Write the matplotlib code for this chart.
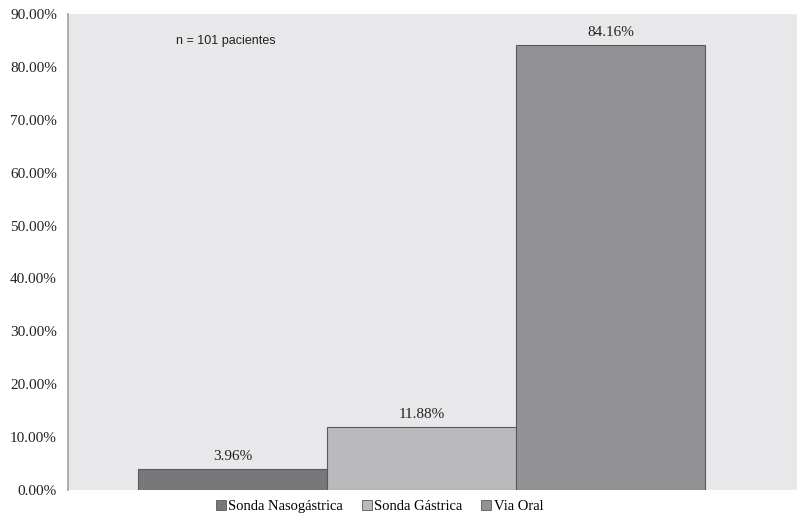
import matplotlib.pyplot as plt
from matplotlib.patches import Patch
from matplotlib.ticker import FuncFormatter

categories = ["Sonda Nasogástrica", "Sonda Gástrica", "Via Oral"]
values = [3.96, 11.88, 84.16]
colors = ["#78787b", "#bababd", "#929295"]

serif = ["Liberation Serif", "DejaVu Serif"]

fig = plt.figure(figsize=(7.97, 5.17), dpi=100)
ax = fig.add_axes([68 / 797, 27 / 517, 729 / 797, 476 / 517])
ax.set_facecolor("#e8e8ea")

x = list(range(len(values)))
ax.bar(x, values, width=1.0, color=colors, edgecolor="#5a5a5c", linewidth=0.8)
for xi, v in zip(x, values):
    ax.text(xi, v + 1.1, f"{v:.2f}%", ha="center", va="bottom",
            fontsize=11, family=serif, color="#222222")

ax.set_xlim(-0.87, 2.987)
ax.set_ylim(0, 90)
ax.set_yticks(range(0, 91, 10))
ax.yaxis.set_major_formatter(FuncFormatter(lambda v, p: f"{v:.2f}%"))
ax.tick_params(axis="y", length=0, pad=8, labelsize=11)
for lab in ax.get_yticklabels():
    lab.set_family(serif)
    lab.set_color("#222222")
ax.set_xticks([])
for s in ["top", "right", "bottom"]:
    ax.spines[s].set_visible(False)
ax.spines["left"].set_color("#a0a0a3")
ax.spines["left"].set_linewidth(1.2)

ax.text(-0.30, 84.9, "n = 101 pacientes", ha="left", va="center",
        fontsize=9, family="Liberation Sans", color="#222222")

handles = [Patch(facecolor=c, edgecolor="#5a5a5c", linewidth=0.6) for c in colors]
fig.legend(handles, categories, loc="lower center", bbox_to_anchor=(0.476, -0.018),
           ncol=3, frameon=False, handlelength=0.7, handleheight=0.7,
           handletextpad=0.15, columnspacing=1.3,
           prop={"family": serif, "size": 10.5})

fig.savefig("out.png", dpi=100)
